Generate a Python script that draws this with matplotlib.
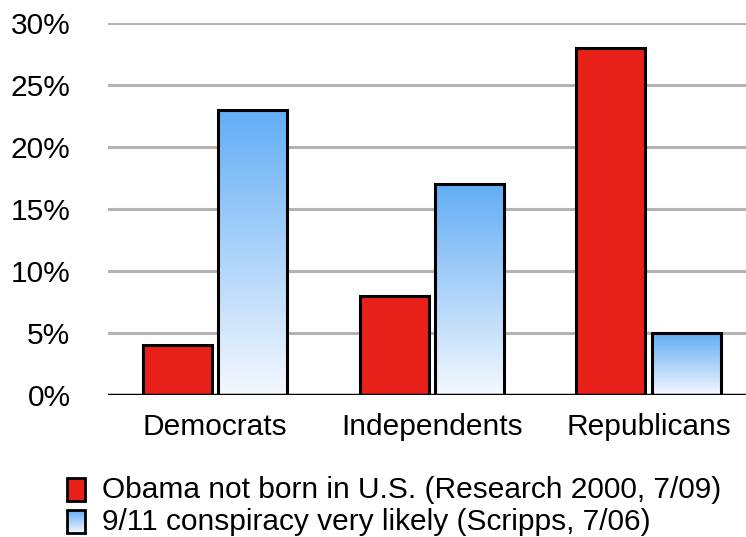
import numpy as np
import matplotlib
matplotlib.use("Agg")
import matplotlib.pyplot as plt
from matplotlib.patches import Rectangle
from matplotlib.colors import LinearSegmentedColormap

plt.rcParams['font.family'] = ['Liberation Sans', 'DejaVu Sans']

groups = ["Democrats", "Independents", "Republicans"]
obama = [4, 8, 28]
conspiracy = [23, 17, 5]
series_labels = ["Obama not born in U.S. (Research 2000, 7/09)",
                 "9/11 conspiracy very likely (Scripps, 7/06)"]
yticks = [0, 5, 10, 15, 20, 25, 30]

red = "#e8201a"
blue_cm = LinearSegmentedColormap.from_list("bl", ["#f4f8fe", "#62adf5"])
grad = np.linspace(0, 1, 256).reshape(-1, 1)
fs = 21.5

fig = plt.figure(figsize=(7.46, 5.37), dpi=100)
# axes: x 108..746, y 23..395 px
ax = fig.add_axes([108/746, 1-395/537, (746-108)/746, (395-23)/537])

x = np.arange(len(groups))
w = 0.319
gap = 0.028
off = (w + gap) / 2

for yv in yticks[1:]:
    ax.axhline(yv, color="#b3b3b3", lw=2.2, zorder=0)

ax.bar(x - off, obama, w, color=red, edgecolor="black", lw=2.2, zorder=3)
bars = ax.bar(x + off, conspiracy, w, color="none", edgecolor="black", lw=2.2, zorder=4)
for b in bars:
    bx, by = b.get_x(), b.get_y()
    bw, bh = b.get_width(), b.get_height()
    ax.imshow(grad, cmap=blue_cm, origin="lower", aspect="auto",
              extent=[bx, bx + bw, by, by + bh], zorder=3)

ax.axhline(0, color="black", lw=2.5, zorder=5)
ax.set_xlim(-0.494, 2.45)
ax.set_ylim(0, 30)
ax.set_yticks(yticks)
ax.set_yticklabels([f"{v}%" for v in yticks], fontsize=fs)
ax.set_xticks(x)
ax.set_xticklabels(groups, fontsize=fs)
ax.tick_params(axis="x", length=0, pad=13)
ax.tick_params(axis="y", length=0, pad=27)
for s in ax.spines.values():
    s.set_visible(False)

# legend
def px(x0, y0, w0, h0):
    return [x0/746, 1-(y0+h0)/537, w0/746, h0/537]

lax1 = fig.add_axes(px(67, 478, 18, 23))
lax1.add_patch(Rectangle((0, 0), 1, 1, facecolor=red, edgecolor="black", lw=2,
                         transform=lax1.transAxes, clip_on=False))
lax1.axis("off")
lax2 = fig.add_axes(px(67, 510, 18, 23))
lax2.imshow(grad, cmap=blue_cm, origin="lower", aspect="auto", extent=[0, 1, 0, 1])
lax2.add_patch(Rectangle((0, 0), 1, 1, facecolor="none", edgecolor="black", lw=2,
                         transform=lax2.transAxes, clip_on=False))
lax2.set_xlim(0, 1); lax2.set_ylim(0, 1)
lax2.axis("off")

fig.text(102/746, 1-490/537, series_labels[0], fontsize=fs, va="center", ha="left")
fig.text(102/746, 1-522/537, series_labels[1], fontsize=fs, va="center", ha="left")

fig.savefig("out.png", dpi=100)
